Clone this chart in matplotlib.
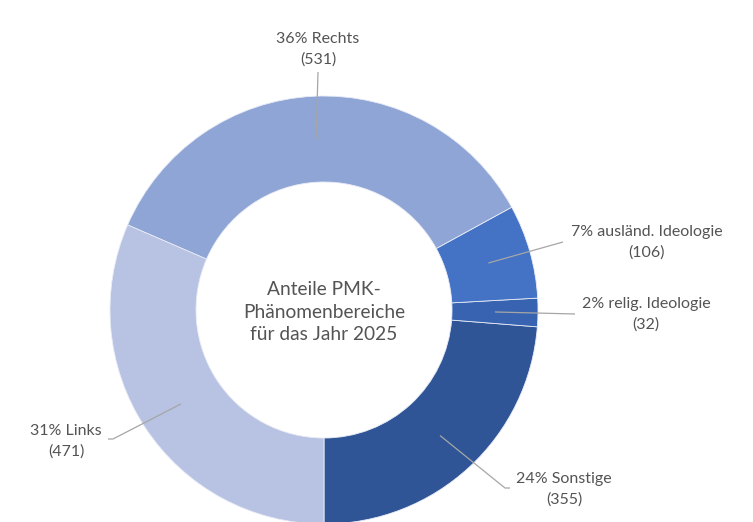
import numpy as np
import matplotlib
matplotlib.use("Agg")
import matplotlib.pyplot as plt

plt.rcParams['font.family'] = ['Lato', 'DejaVu Sans']

categories = ["Sonstige", "relig. Ideologie", "ausländ. Ideologie", "Rechts", "Links"]
values = [355, 32, 106, 531, 471]
percents = ["24%", "2%", "7%", "36%", "31%"]
colors = ["#2F5597", "#3763B0", "#4472C4", "#8FA5D6", "#B8C2E2"]
center_title = "Anteile PMK-\nPhänomenbereiche\nfür das Jahr 2025"

W, H = 753, 522
fig = plt.figure(figsize=(W / 100, H / 100), dpi=100)
ax = fig.add_axes([0, 0, 1, 1])

cx, cy = 324, H - 310
R_out, R_in = 214, 128
wedges, _ = ax.pie(values, colors=colors, startangle=-90, counterclock=True,
                   center=(cx, cy), radius=R_out,
                   wedgeprops=dict(width=R_out - R_in, edgecolor="#E8ECF6", linewidth=0.6),
                   frame=True)
ax.set_xlim(0, W)
ax.set_ylim(0, H)
ax.set_aspect('equal')
ax.axis('off')

text_col = "#545454"
line_col = "#A6A6A6"
r_mid = (R_out + R_in) / 2

# label layout: (elbow/end point of leader, text position)  in pixel coords (y from top)
layout = {
    "Sonstige": ([(505, 488), (510, 488)], (564, 489)),
    "relig. Ideologie": ([(575, 314)], (646, 314)),
    "ausländ. Ideologie": ([(563, 242)], (647, 242)),
    "Rechts": ([(318, 72)], (318, 49)),
    "Links": ([(113, 439), (108, 439)], (66, 441)),
}

for w, cat, val, pct in zip(wedges, categories, values, percents):
    ang = np.deg2rad((w.theta1 + w.theta2) / 2)
    ax_x = cx + r_mid * np.cos(ang)
    ax_y = cy + r_mid * np.sin(ang)
    pts, tpos = layout[cat]
    xs = [ax_x] + [p[0] for p in pts]
    ys = [ax_y] + [H - p[1] for p in pts]
    ax.plot(xs, ys, color=line_col, lw=0.9, solid_capstyle='butt')
    ax.text(tpos[0], H - tpos[1], f"{pct} {cat}\n({val})", ha='center', va='center',
            fontsize=11.5, color=text_col, linespacing=1.55)

ax.text(cx, cy - 2, center_title, ha='center', va='center', fontsize=13.8,
        color=text_col, linespacing=1.38)

fig.savefig("out.png", dpi=100)
